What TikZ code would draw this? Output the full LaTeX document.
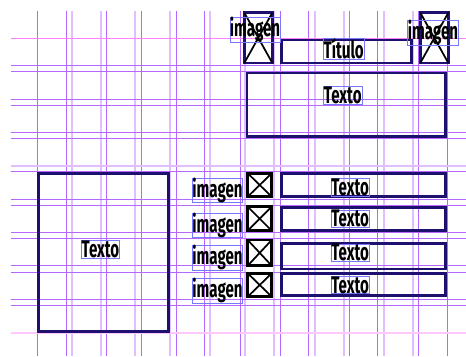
\documentclass[tikz,border=0pt]{standalone}
\usepackage{fontspec}
\newfontfamily\condfont[FakeStretch=0.63]{Fira Sans}
\usetikzlibrary{positioning}
\definecolor{gridA}{RGB}{180,104,255}
\definecolor{gridB}{RGB}{224,190,255}
\definecolor{margA}{RGB}{255,128,255}
\definecolor{margB}{RGB}{255,200,255}
\definecolor{boxnavy}{RGB}{30,16,110}
\definecolor{frameblue}{RGB}{120,120,255}
\tikzset{
  gridline/.style={draw=gridA, line width=0.75pt},
  gridsoft/.style={draw=gridB, line width=1.4pt},
  blockbox/.style={draw=boxnavy, line width=1.9pt},
  crossline/.style={draw=black, line width=1.3pt},
  txtframe/.style={draw=frameblue, line width=0.5pt, inner sep=0pt,
                   minimum height=13pt, font=\condfont\bfseries\fontsize{18}{18}\selectfont},
}

\begin{document}
\begin{tikzpicture}[x=0.75pt, y=-0.75pt]
  \useasboundingbox (0,0) rectangle (466,356);

  % column grid
  \foreach \gx in {71.7,101,135,169.7,210.3,245.3,274.3,314.7,343.7,383.7,412.7}
    \draw[gridsoft] (\gx,11) -- (\gx,356);
  \foreach \gx in {37.3,66.3,106.3,141.3,176,204.3,240,280,308.7,349,377.7,418.3,447.3}
    \draw[gridline] (\gx,11) -- (\gx,356);

  % row grid
  \foreach \gy in {65.3,71.3,99.3,105.3,132.3,138.3,171.7,199.3,205,232.3,238.3,265.3,272,299.3,305}
    \draw[gridline] (11,\gy) -- (466,\gy);
  \draw[gridsoft] (11,165.7) -- (466,165.7);
  \draw[draw=margA, line width=0.9pt] (11,38.3) -- (466,38.3);
  \draw[draw=margB, line width=1.4pt] (11,332.7) -- (466,332.7);

  % header
  \draw[blockbox] (244.3,12.7) rectangle (272.3,63);
  \draw[crossline] (244.3,12.7) -- (272.3,63) (272.3,12.7) -- (244.3,63);
  \draw[blockbox] (420.3,12.7) rectangle (448.3,63);
  \draw[crossline] (420.3,12.7) -- (448.3,63) (448.3,12.7) -- (420.3,63);
  \draw[blockbox] (281.7,40) rectangle (411.3,63);
  \node[txtframe, minimum width=37.5pt] (imgLabelL) at (255,29.5) {imagen};
  \node[txtframe, minimum width=38pt] (imgLabelR) at (433,32.8) {imagen};
  \node[txtframe, minimum width=30.5pt] (txtTitulo) at (343.7,48.7) {Título};

  % main text block
  \draw[blockbox] (247,73) rectangle (445.7,136.3);
  \node[txtframe, minimum width=29.3pt] (txtMain) at (342.8,95.3) {Texto};

  % side block
  \draw[blockbox] (38.7,173.7) rectangle (168.3,331.3);
  \node[txtframe, minimum width=28.2pt, minimum height=13.5pt] (txtSide) at (100.5,249.7) {Texto};

  % list rows
  \foreach \ia/\ib/\ta/\tb/\ly/\ty [count=\r] in
      {173.3/196.7/173.7/196.7/190.3/187.3,
       206.7/230.7/207.7/230.7/225.3/218.7,
       240/265.7/243.7/269/257.5/252.8,
       273.3/296.7/273.7/295.7/290.8/285}{
    \draw[blockbox, draw=black] (247.7,\ia) rectangle (271.7,\ib);
    \draw[crossline] (247.7,\ia) -- (271.7,\ib) (271.7,\ia) -- (247.7,\ib);
    \draw[blockbox] (281.7,\ta) rectangle (445.7,\tb);
    \node[txtframe, minimum width=37.8pt] (rowLabel\r) at (217.5,\ly) {imagen};
    \node[txtframe, minimum width=28.7pt] (rowText\r) at (350.2,\ty) {Texto};
  }
\end{tikzpicture}
\end{document}
